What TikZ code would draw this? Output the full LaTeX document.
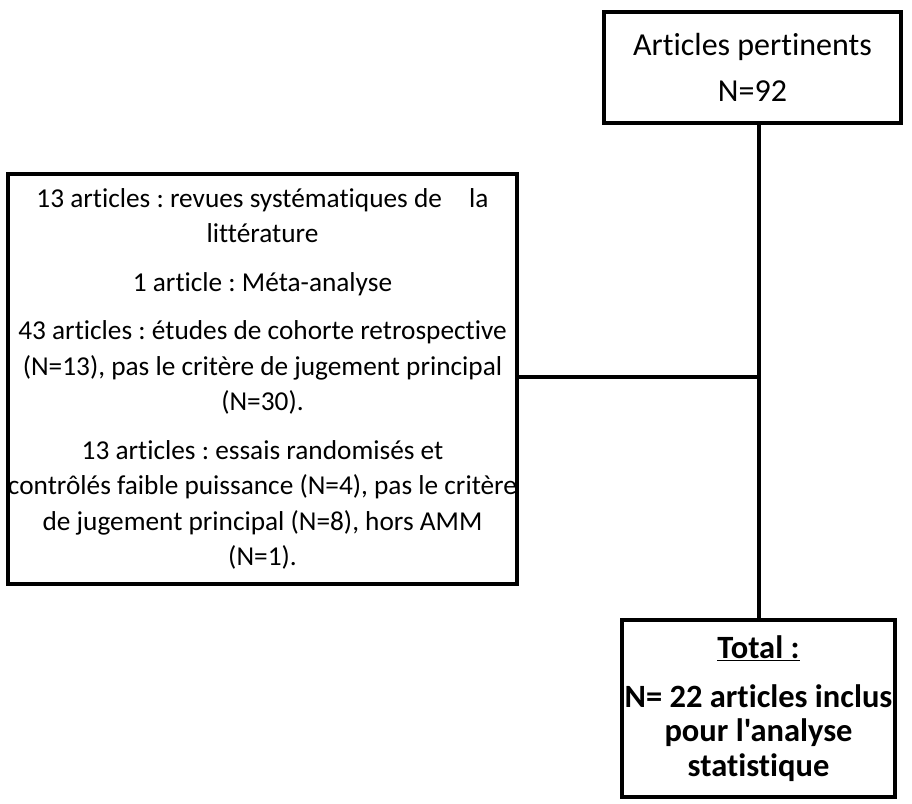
\documentclass[tikz,border=0pt]{standalone}
\usepackage{fontspec}
\setmainfont{Carlito}[Ligatures={TeXOff,CommonOff}]
\frenchspacing
\begin{document}
\begin{tikzpicture}[x=1pt,y=-1pt,
  box/.style={draw, line width=4pt, inner sep=0pt, align=center},
  link/.style={line width=4pt}]
\useasboundingbox (0,0) rectangle (912,803);

\node[box, minimum width=297pt, minimum height=111pt,
  font=\fontsize{32}{36}\selectfont] (top) at (752.5,67.5)
  {Articles pertinents\\[10pt]N=92};

\node[box, minimum width=505pt, minimum height=410pt,
  font=\fontsize{27.3}{35.5}\selectfont] (left) at (262.5,379)
  {13 articles : revues systématiques de\hspace{1em}la\\
   littérature\\[13pt]
   1 article : Méta-analyse\\[13pt]
   43 articles : études de cohorte retrospective\\
   (N=13), pas le critère de jugement principal\\
   (N=30).\\[13pt]
   13 articles : essais randomisés et\\
   contrôlés faible puissance (N=4), pas le critère\\
   de jugement principal (N=8), hors AMM\\
   (N=1).};

\node[box, minimum width=273pt, minimum height=177pt,
  font=\fontsize{32.5}{34.5}\selectfont\bfseries] (total) at (758.5,708.5)
  {\underline{Total :}\\[14pt]
   N= 22 articles inclus\\
   pour l'analyse\\
   statistique};

\coordinate (spine) at (758,377);
\draw[link] (top.south -| total.north) -- (total.north);
\draw[link] (left.east |- spine) -- (spine);
\end{tikzpicture}
\end{document}
